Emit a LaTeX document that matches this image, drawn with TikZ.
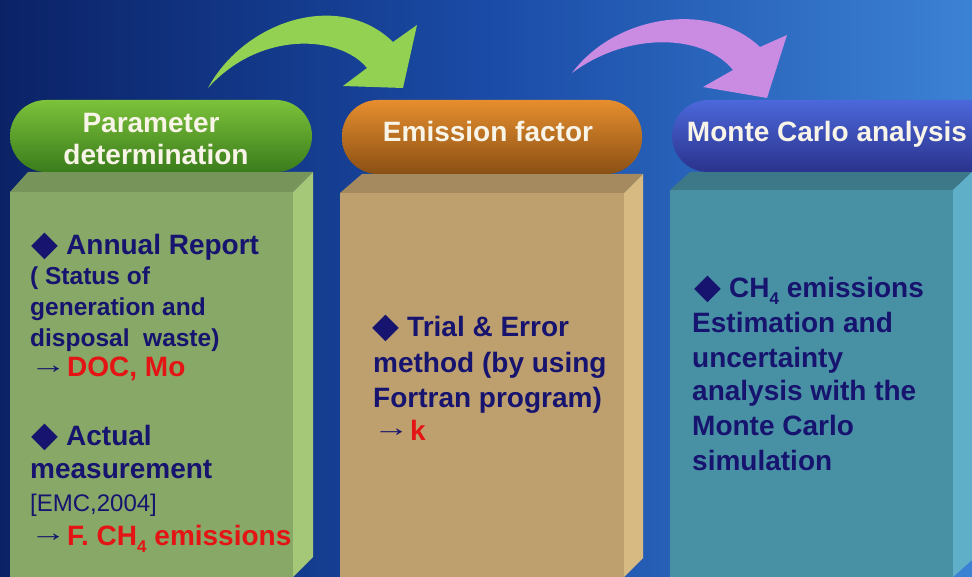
\documentclass[tikz,border=0pt]{standalone}
\usepackage{fontspec}
\setmainfont{Liberation Sans}
\newfontfamily\dvfont{DejaVu Sans}
\definecolor{bgL}{HTML}{0B2266}
\definecolor{bgM}{HTML}{1A4BA6}
\definecolor{bgR}{HTML}{3C82D4}
\definecolor{navy}{HTML}{16146E}
\definecolor{redtx}{HTML}{E41414}
\definecolor{hdrw}{HTML}{F8F4E8}
\definecolor{gFront}{HTML}{87A867}
\definecolor{gTop}{HTML}{77955A}
\definecolor{gSide}{HTML}{A5C878}
\definecolor{tFront}{HTML}{BEA06E}
\definecolor{tTop}{HTML}{A58A5F}
\definecolor{tSide}{HTML}{D7B982}
\definecolor{cFront}{HTML}{4891A5}
\definecolor{cTop}{HTML}{3C7887}
\definecolor{cSide}{HTML}{5FAFC8}
\definecolor{pgT}{HTML}{7CC23A}
\definecolor{pgB}{HTML}{3A7C1C}
\definecolor{poT}{HTML}{E68E2E}
\definecolor{poB}{HTML}{8A5014}
\definecolor{pbT}{HTML}{4C68DA}
\definecolor{pbB}{HTML}{2A328C}
\definecolor{arG}{HTML}{92D152}
\definecolor{arP}{HTML}{C98CE2}
\newcommand{\dmd}{\makebox[35pt][l]{\raisebox{-1pt}{\dvfont\fontsize{35}{35}\selectfont ◆}}}
\newcommand{\rarr}{\makebox[37pt][l]{\raisebox{3.5pt}{\fontseries{m}\selectfont\fontsize{26}{26}\selectfont\scalebox{1.4}[1]{→}}}}
\newcommand{\subf}{\raisebox{-7pt}{\fontsize{17}{17}\selectfont 4}}
\begin{document}
\begin{tikzpicture}[x=1pt,y=-1pt,
  txt/.style={anchor=base west, inner sep=0pt, text=navy, font=\fontsize{28}{28}\selectfont\bfseries},
  txtsm/.style={txt, font=\fontsize{24.5}{24.5}\selectfont\bfseries},
  txtrg/.style={txt, font=\fontsize{24}{24}\selectfont},
  hdr/.style={anchor=base, inner sep=0pt, text=hdrw, font=\fontsize{28}{28}\selectfont\bfseries},
  pill/.style={rounded corners=36pt}]
\useasboundingbox (0,0) rectangle (972,577);
\begin{scope}
\clip (0,0) rectangle (972,577);
% background
\fill[left color=bgL, right color=bgR, middle color=bgM] (0,0) rectangle (972,577);
% arrows
\fill[arG] (208,88) .. controls (245,20) and (340,-10) .. (393,42)
  -- (417,25) -- (403,88) -- (343,86) -- (367,68)
  .. controls (340,35) and (260,30) .. (208,88) -- cycle;
\fill[arP] (572,73) .. controls (615,15) and (710,0) .. (760,47)
  -- (787,35) -- (767,98) -- (703,87) -- (733,70)
  .. controls (705,35) and (630,30) .. (572,73) -- cycle;
% green box
\fill[gFront] (10,192) rectangle (293,577);
\fill[gTop] (10,192) -- (28,172) -- (313,172) -- (293,192) -- cycle;
\fill[gSide] (293,192) -- (313,172) -- (313,557) -- (293,577) -- cycle;
% tan box
\fill[tFront] (340,193) rectangle (624,577);
\fill[tTop] (340,193) -- (362,174) -- (643,174) -- (624,193) -- cycle;
\fill[tSide] (624,193) -- (643,174) -- (643,558) -- (624,577) -- cycle;
% teal box
\fill[cFront] (670,190) rectangle (953,577);
\fill[cTop] (670,190) -- (690,172) -- (972,172) -- (953,190) -- cycle;
\fill[cSide] (953,190) -- (972,172) -- (972,560) -- (953,577) -- cycle;
% pills
\shade[pill, top color=pgT, bottom color=pgB] (10,100) rectangle (312,172);
\shade[pill, top color=poT, bottom color=poB] (342,100) rectangle (642,174);
\shade[pill, top color=pbT, bottom color=pbB] (672,100) rectangle (1010,172);
\end{scope}
% headers
\node[hdr] (h1a) at (151,133) {Parameter};
\node[hdr] (h1b) at (156,165) {determination};
\node[hdr] (h2) at (488,142) {Emission factor};
\node[hdr] (h3) at (827,142) {Monte Carlo analysis};
% column 1
\node[txt] (a1) at (31,255) {\dmd Annual Report};
\node[txtsm] (a2) at (30,285) {( Status of};
\node[txtsm] (a3) at (30,316) {generation and};
\node[txtsm] (a4) at (30,347) {disposal\ \ waste)};
\node[txt] (a5) at (30,377) {\rarr\textcolor{redtx}{DOC, Mo}};
\node[txt] (a6) at (31,445) {\dmd Actual};
\node[txt] (a7) at (30,478) {measurement};
\node[txtrg] (a8) at (30,511) {[EMC,2004]};
\node[txt] (a9) at (30,545) {\rarr\textcolor{redtx}{F. CH\subf\ emissions}};
% column 2
\node[txt] (b1) at (372,337) {\dmd Trial \& Error};
\node[txt] (b2) at (373,372) {method (by using};
\node[txt] (b3) at (373,407) {Fortran program)};
\node[txt] (b4) at (373,440) {\rarr\textcolor{redtx}{k}};
% column 3
\node[txt] (c1) at (694,298) {\dmd CH\subf\ emissions};
\node[txt] (c2) at (692,333) {Estimation and};
\node[txt] (c3) at (692,367) {uncertainty};
\node[txt] (c4) at (692,400) {analysis with the};
\node[txt] (c5) at (692,435) {Monte Carlo};
\node[txt] (c6) at (692,470) {simulation};
\end{tikzpicture}
\end{document}
